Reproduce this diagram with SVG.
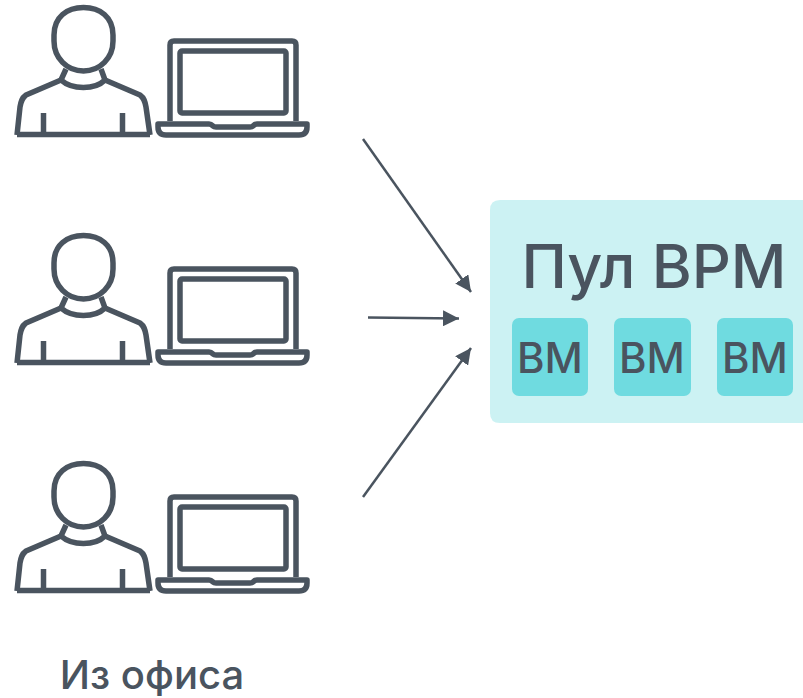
<svg xmlns="http://www.w3.org/2000/svg" width="803" height="698" viewBox="0 0 803 698">
<style>
.ln{fill:none;stroke:#4a545f;stroke-width:5.500;stroke-linejoin:round}
.thin{fill:none;stroke:#4a545f;stroke-width:2.500}
.t{fill:#4a545f;font-family:"Inter","Liberation Sans",sans-serif;font-weight:500}
.vm{fill:#6fdbe0}
.vt{font-size:42px;text-anchor:middle}
</style>
<defs>
<marker id="a" markerUnits="userSpaceOnUse" markerWidth="18" markerHeight="16" refX="16" refY="8" orient="auto"><path d="M0 0L16 8L0 16Z" fill="#4a545f"/></marker>
<g id="pair">
<path class="ln" d="M54 35C54 17 67 7.500 83.500 7.500C100 7.500 113 17 113 35V41C113 58 100 71 83.500 71C67 71 54 58 54 41Z"/>
<path class="ln" d="M66 69L61 80C72 90 95 90 105 80L101 69"/>
<path class="ln" d="M61 80L26 95C22 98 21 101 20 107L17 135M105 80L140 95C144 98 145 101 146 107L150 135"/>
<path class="ln" d="M17 134.500H150M43.500 113V134M122.500 113V134"/>
<path class="ln" d="M170 121V45Q170 41 174 41H292Q296 41 296 45V121"/>
<rect class="ln" x="180" y="51" width="106" height="62" rx="2"/>
<path class="ln" d="M158 124H209Q211 124 213 126Q214 127 216 127H250Q252 127 253 126Q255 124 257 124H307V127Q307 135 299 135H166Q158 135 158 127Z"/>
</g>
</defs>
<g id="user-1"><use href="#pair"/></g>
<g id="user-2"><use href="#pair" y="228"/></g>
<g id="user-3"><use href="#pair" y="456"/></g>
<g id="office-label"><text class="t" x="152" y="689" font-size="40" text-anchor="middle">Из офиса</text></g>
<g id="pool">
<path d="M803 200H500Q490 200 490 210V413Q490 423 500 423H803Z" fill="#ccf2f3"/>
<text class="t" x="654" y="288" font-size="61" text-anchor="middle">Пул ВРМ</text>
</g>
<g id="vm-1"><rect class="vm" x="512" y="318" width="76" height="78" rx="7"/><text class="t vt" x="550" y="373">ВМ</text></g>
<g id="vm-2"><rect class="vm" x="614" y="318" width="77" height="78" rx="7"/><text class="t vt" x="652" y="373">ВМ</text></g>
<g id="vm-3"><rect class="vm" x="717" y="318" width="76" height="78" rx="7"/><text class="t vt" x="755" y="373">ВМ</text></g>
<g id="connectors">
<path class="thin" marker-end="url(#a)" d="M363 139L471 292"/>
<path class="thin" marker-end="url(#a)" d="M368 317.500L459 318.500"/>
<path class="thin" marker-end="url(#a)" d="M363 497L471 348"/>
</g>
</svg>
